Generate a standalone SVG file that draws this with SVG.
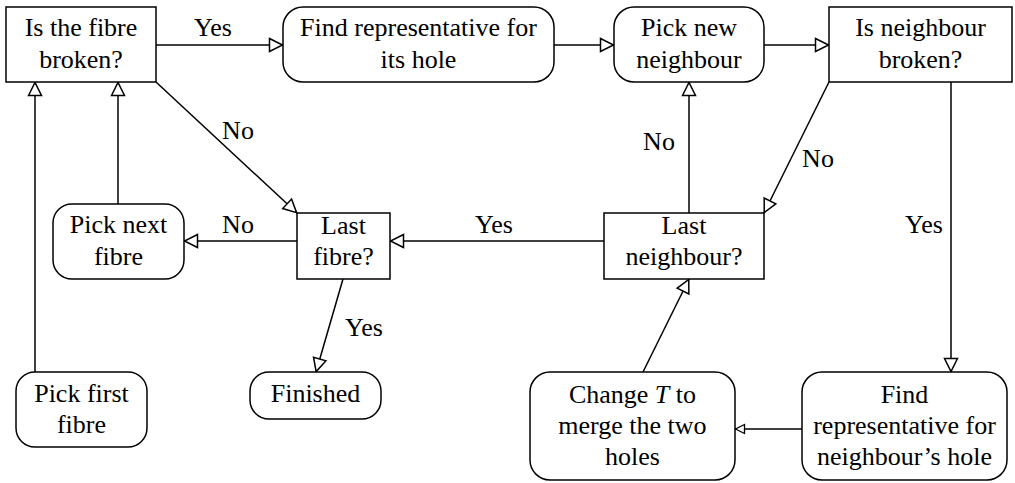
<svg xmlns="http://www.w3.org/2000/svg" width="1015" height="483" viewBox="0 0 1015 483">
<defs>
<style>
.box{fill:#fff;stroke:#000;stroke-width:1.5}
.e{fill:none;stroke:#000;stroke-width:1.5}
</style>
<marker id="ah" markerUnits="userSpaceOnUse" viewBox="-2 -9 18 18" markerWidth="18" markerHeight="18" refX="13.5" refY="0" orient="auto">
<path d="M0,-6.5 L13,0 L0,6.5 Z" fill="#fff" stroke="#000" stroke-width="1.5"/>
</marker>
<marker id="ahs" markerUnits="userSpaceOnUse" viewBox="-2 -7 14 14" markerWidth="14" markerHeight="14" refX="9.5" refY="0" orient="auto">
<path d="M0,-4.5 L9,0 L0,4.5 Z" fill="#fff" stroke="#000" stroke-width="1.3"/>
</marker>
</defs>
<g id="connectors">
<path class="e" d="M156,45 L283,45" marker-end="url(#ah)"/>
<path class="e" d="M554,45 L614,45" marker-end="url(#ah)"/>
<path class="e" d="M764,45 L829,45" marker-end="url(#ah)"/>
<path class="e" d="M156,82 L297,213" marker-end="url(#ah)"/>
<path class="e" d="M829,82 L764,213" marker-end="url(#ah)"/>
<path class="e" d="M951,82 L951,372" marker-end="url(#ah)"/>
<path class="e" d="M802,429 L735,429" marker-end="url(#ahs)"/>
<path class="e" d="M643,372 L689,279" marker-end="url(#ah)"/>
<path class="e" d="M689,213 L689,82" marker-end="url(#ah)"/>
<path class="e" d="M604,241 L390,241" marker-end="url(#ah)"/>
<path class="e" d="M297,241 L184,241" marker-end="url(#ah)"/>
<path class="e" d="M343,279 L316,372" marker-end="url(#ah)"/>
<path class="e" d="M118,204 L118,82" marker-end="url(#ah)"/>
<path class="e" d="M35,372 L35,82" marker-end="url(#ah)"/>
<text font-family="Liberation Serif" font-size="26" text-anchor="middle" x="213" y="36">Yes</text>
<text font-family="Liberation Serif" font-size="26" text-anchor="middle" x="238" y="139">No</text>
<text font-family="Liberation Serif" font-size="26" text-anchor="middle" x="238" y="233">No</text>
<text font-family="Liberation Serif" font-size="26" text-anchor="middle" x="494" y="233">Yes</text>
<text font-family="Liberation Serif" font-size="26" text-anchor="middle" x="659" y="150">No</text>
<text font-family="Liberation Serif" font-size="26" text-anchor="middle" x="818" y="167">No</text>
<text font-family="Liberation Serif" font-size="26" text-anchor="middle" x="924" y="233">Yes</text>
<text font-family="Liberation Serif" font-size="26" text-anchor="middle" x="364" y="336">Yes</text>
</g>
<g id="n1"><rect class="box" x="6" y="7" width="150" height="75"/><text font-family="Liberation Serif" font-size="26" text-anchor="middle" x="81" y="36">Is the fibre</text><text font-family="Liberation Serif" font-size="26" text-anchor="middle" x="81" y="68">broken?</text></g>
<g id="n2"><rect class="box" x="283" y="7" width="271" height="75" rx="20"/><text font-family="Liberation Serif" font-size="26" text-anchor="middle" x="418.5" y="36">Find representative for</text><text font-family="Liberation Serif" font-size="26" text-anchor="middle" x="418.5" y="68">its hole</text></g>
<g id="n3"><rect class="box" x="614" y="7" width="150" height="75" rx="20"/><text font-family="Liberation Serif" font-size="26" text-anchor="middle" x="689" y="36">Pick new</text><text font-family="Liberation Serif" font-size="26" text-anchor="middle" x="689" y="68">neighbour</text></g>
<g id="n4"><rect class="box" x="829" y="7" width="183" height="75"/><text font-family="Liberation Serif" font-size="26" text-anchor="middle" x="920.5" y="36">Is neighbour</text><text font-family="Liberation Serif" font-size="26" text-anchor="middle" x="920.5" y="68">broken?</text></g>
<g id="n5"><rect class="box" x="53" y="204" width="131" height="75" rx="19"/><text font-family="Liberation Serif" font-size="26" text-anchor="middle" x="118.5" y="233">Pick next</text><text font-family="Liberation Serif" font-size="26" text-anchor="middle" x="118.5" y="265">fibre</text></g>
<g id="n6"><rect class="box" x="297" y="213" width="93" height="66"/><text font-family="Liberation Serif" font-size="26" text-anchor="middle" x="343.5" y="234">Last</text><text font-family="Liberation Serif" font-size="26" text-anchor="middle" x="343.5" y="265">fibre?</text></g>
<g id="n7"><rect class="box" x="604" y="213" width="160" height="66"/><text font-family="Liberation Serif" font-size="26" text-anchor="middle" x="684" y="234">Last</text><text font-family="Liberation Serif" font-size="26" text-anchor="middle" x="684" y="265">neighbour?</text></g>
<g id="n8"><rect class="box" x="16" y="372" width="131" height="75" rx="19"/><text font-family="Liberation Serif" font-size="26" text-anchor="middle" x="81.5" y="402">Pick first</text><text font-family="Liberation Serif" font-size="26" text-anchor="middle" x="81.5" y="433">fibre</text></g>
<g id="n9"><rect class="box" x="250" y="372" width="131" height="47" rx="19"/><text font-family="Liberation Serif" font-size="26" text-anchor="middle" x="315.5" y="402">Finished</text></g>
<g id="n10"><rect class="box" x="530" y="372" width="205" height="108" rx="20"/><text font-family="Liberation Serif" font-size="26" text-anchor="middle" x="632.5" y="403">Change <tspan font-style="italic">T</tspan> to</text><text font-family="Liberation Serif" font-size="26" text-anchor="middle" x="632.5" y="434">merge the two</text><text font-family="Liberation Serif" font-size="26" text-anchor="middle" x="632.5" y="465">holes</text></g>
<g id="n11"><rect class="box" x="802" y="372" width="205" height="108" rx="20"/><text font-family="Liberation Serif" font-size="26" text-anchor="middle" x="904.5" y="403">Find</text><text font-family="Liberation Serif" font-size="26" text-anchor="middle" x="904.5" y="434">representative for</text><text font-family="Liberation Serif" font-size="26" text-anchor="middle" x="904.5" y="465">neighbour’s hole</text></g>
</svg>
